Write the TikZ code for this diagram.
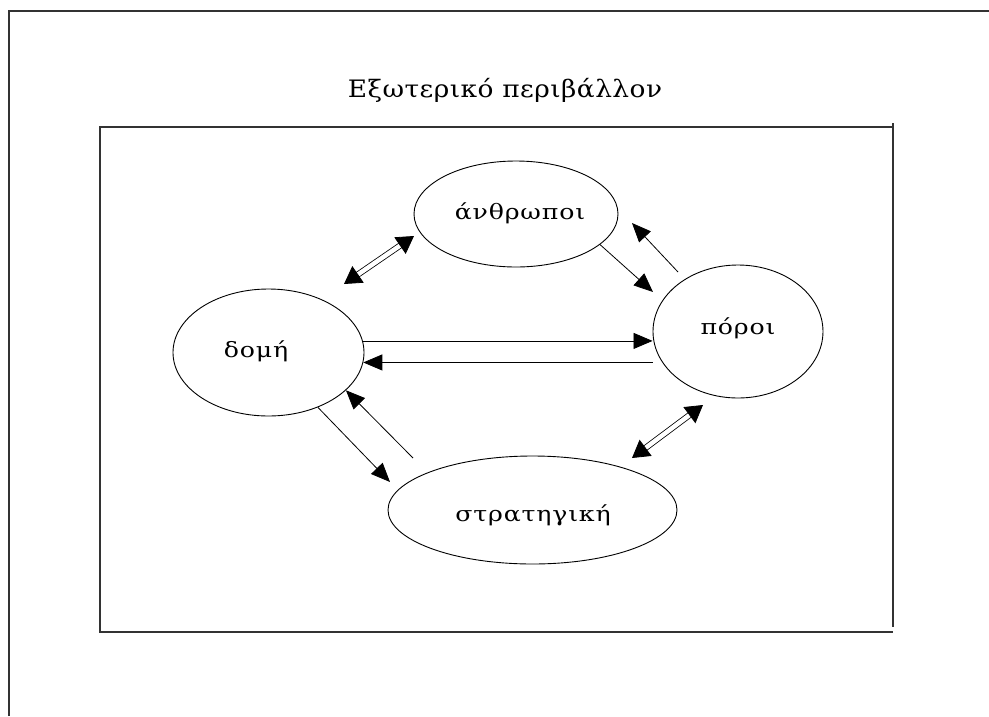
\documentclass[tikz,border=0pt]{standalone}
\usepackage{fontspec}
\setmainfont{DejaVu Serif}
\newfontfamily\lblfont[FakeStretch=1.2,LetterSpace=4]{DejaVu Serif}
\newfontfamily\ttlfont[FakeStretch=1.1,LetterSpace=2]{DejaVu Serif}
\usetikzlibrary{arrows.meta,shapes.geometric,calc}
\begin{document}
\begin{tikzpicture}[x=1pt,y=-1pt,
  frame/.style={line width=1.3pt,draw=black!80},
  oval/.style={ellipse,draw,line width=0.9pt,inner sep=0pt},
  lbl/.style={font=\lblfont\fontsize{21}{24}\selectfont,inner sep=0pt},
  arr/.style={line width=0.8pt,-{Triangle[length=19pt,width=16pt]}},
  dshaft/.style={line width=0.8pt,double,double distance=4.5pt,shorten <=16pt,shorten >=16pt},
  dhead/.style={line width=0.8pt,-{Triangle[length=17pt,width=20pt]}}]
\useasboundingbox (0,0) rectangle (989,716);
% outer frame (cut off at right and bottom)
\draw[frame] (9,716) -- (9,11) -- (989,11);
% inner frame
\draw[frame] (893,123) -- (893,627);
\draw[frame] (893,127) -- (100,127) -- (100,632) -- (893,632);
\node[font=\ttlfont\fontsize{24}{28}\selectfont,inner sep=0pt] (title) at (505,90) {Εξωτερικό περιβάλλον};
% ellipses
\node[oval,minimum width=204pt,minimum height=106pt] (a) at (516,214) {};
\node[oval,minimum width=191pt,minimum height=127pt] (d) at (268.5,352.5) {};
\node[oval,minimum width=170pt,minimum height=133pt] (p) at (738,331.5) {};
\node[oval,minimum width=289pt,minimum height=108pt] (s) at (532.5,510) {};
% labels
\node[lbl] (ta) at (520,213) {άνθρωποι};
\node[lbl] (td) at (256,351) {δομή};
\node[lbl] (tp) at (738,328) {πόροι};
\node[lbl] (ts) at (533,515) {στρατηγική};
% free ends
\coordinate (ap) at (653,292);
\coordinate (pa1) at (678,272);
\coordinate (pa2) at (632,223);
\coordinate (ds) at (390,482);
\coordinate (sd) at (413,458);
\coordinate (da1) at (344,284);
\coordinate (da2) at (414,236);
\coordinate (sp1) at (632,458);
\coordinate (sp2) at (703,405);
% connectors
\draw[arr] (d.7.5) -- (d.7.5 -| p.west);
\draw[arr] (p.west |- d.-6.3) -- (d.-6.3);
\draw[arr] (a.-20) -- (ap);
\draw[arr] (pa1) -- (pa2);
\draw[arr] (d.-48.8) -- (ds);
\draw[arr] (sd) -- (d.-26.7);
% double (hollow) arrows
\draw[dshaft] (da1) -- (da2);
\draw[dhead] ($(da1)!17pt!(da2)$) -- (da1);
\draw[dhead] ($(da2)!17pt!(da1)$) -- (da2);
\draw[dshaft] (sp1) -- (sp2);
\draw[dhead] ($(sp1)!17pt!(sp2)$) -- (sp1);
\draw[dhead] ($(sp2)!17pt!(sp1)$) -- (sp2);
\end{tikzpicture}
\end{document}
